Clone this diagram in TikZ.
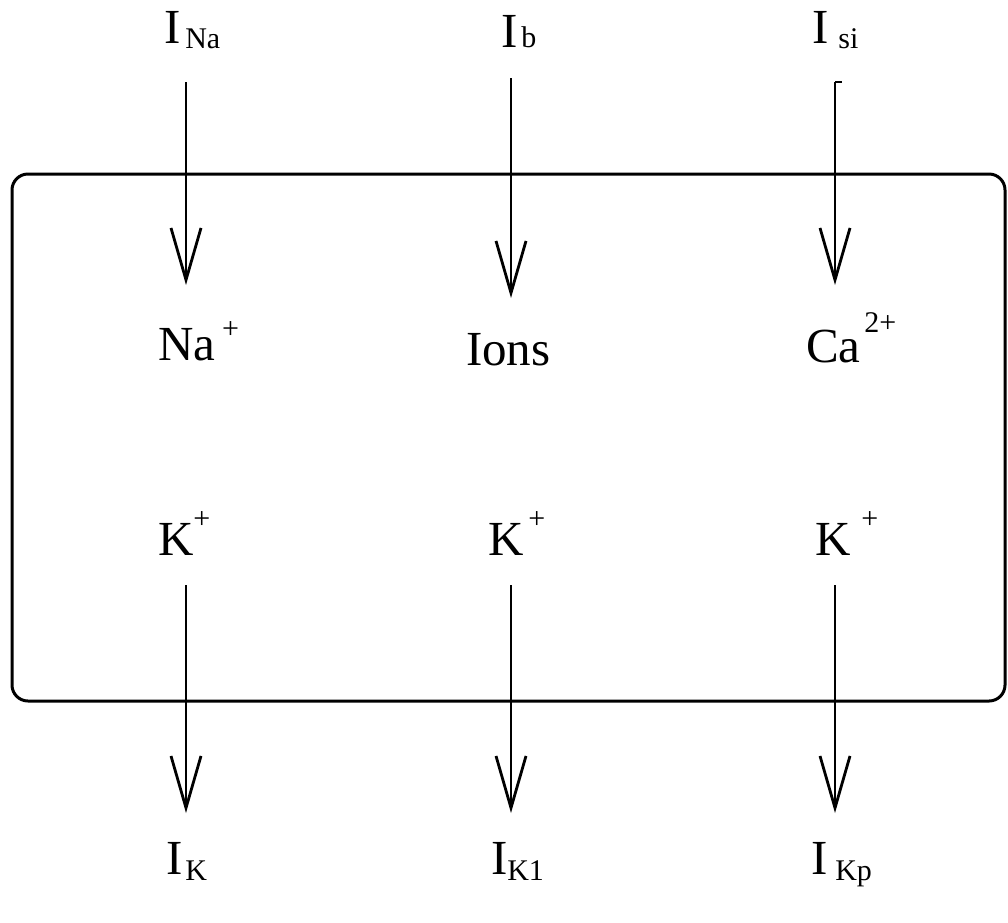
\documentclass[tikz,border=0pt]{standalone}
\usepackage{fontspec}
\setmainfont{Liberation Serif}
\usetikzlibrary{arrows.meta}
\newcommand{\bigf}{\fontsize{49}{52}\selectfont}
\newcommand{\subf}[1]{{\fontsize{30}{32}\selectfont #1}}
\tikzset{
  lbl/.style={inner sep=0pt, outer sep=0pt, anchor=base west, font=\bigf},
  flow/.style={line width=2.8pt, -{Straight Barb[length=52pt,width=30pt,line width=2.8pt]}},
  cell/.style={line width=3pt, rounded corners=16pt}
}
\begin{document}
\begin{tikzpicture}[x=1pt,y=-1pt]
\useasboundingbox (0,0) rectangle (1008,922);
% box
\draw[cell] (12,174) rectangle (1005,701);
% top labels
\node[lbl] (INa) at (164,43) {I\hspace{5pt}\raisebox{-5pt}{\subf{Na}}};
\node[lbl] (Ib)  at (501,47) {I\hspace{4pt}\subf{b}};
\node[lbl] (Isi) at (812,43) {I\hspace{10pt}\raisebox{-5pt}{\subf{si}}};
% inner labels
\node[lbl] (Na)  at (158,360) {Na\hspace{7pt}\raisebox{22pt}{\subf{+}}};
\node[lbl] (Ions) at (466,365) {Ions};
\node[lbl] (Ca)  at (806,362) {Ca\hspace{4pt}\raisebox{30pt}{\subf{2+}}};
\node[lbl] (K1)  at (158,555) {K\hspace{0pt}\raisebox{27pt}{\subf{+}}};
\node[lbl] (K2)  at (488,555) {K\hspace{5pt}\raisebox{27pt}{\subf{+}}};
\node[lbl] (K3)  at (815,555) {K\hspace{11pt}\raisebox{27pt}{\subf{+}}};
% bottom labels
\node[lbl] (IK)  at (166,874) {I\hspace{3pt}\raisebox{-6pt}{\subf{K}}};
\node[lbl] (IK1) at (491,874) {I\raisebox{-6pt}{\subf{K1}}};
\node[lbl] (IKp) at (811,874) {I\hspace{8pt}\raisebox{-6pt}{\subf{Kp}}};
% arrow endpoints
\coordinate (aNa) at (186,82);  \coordinate (bNa) at (186,285);
\coordinate (aB)  at (511,78);  \coordinate (bB)  at (511,298);
\coordinate (aSi) at (835,82);  \coordinate (bSi) at (835,285);
\coordinate (cK)  at (186,585); \coordinate (dK)  at (186,813);
\coordinate (cK1) at (511,585); \coordinate (dK1) at (511,813);
\coordinate (cKp) at (835,585); \coordinate (dKp) at (835,813);
\coordinate (tick) at (842,82);
\draw[flow] (aNa) -- (bNa);
\draw[flow] (aB) -- (bB);
\draw[flow] (aSi) -- (bSi);
\draw[line width=2.8pt] (aSi) -- (tick);
\draw[flow] (cK) -- (dK);
\draw[flow] (cK1) -- (dK1);
\draw[flow] (cKp) -- (dKp);
\end{tikzpicture}
\end{document}
